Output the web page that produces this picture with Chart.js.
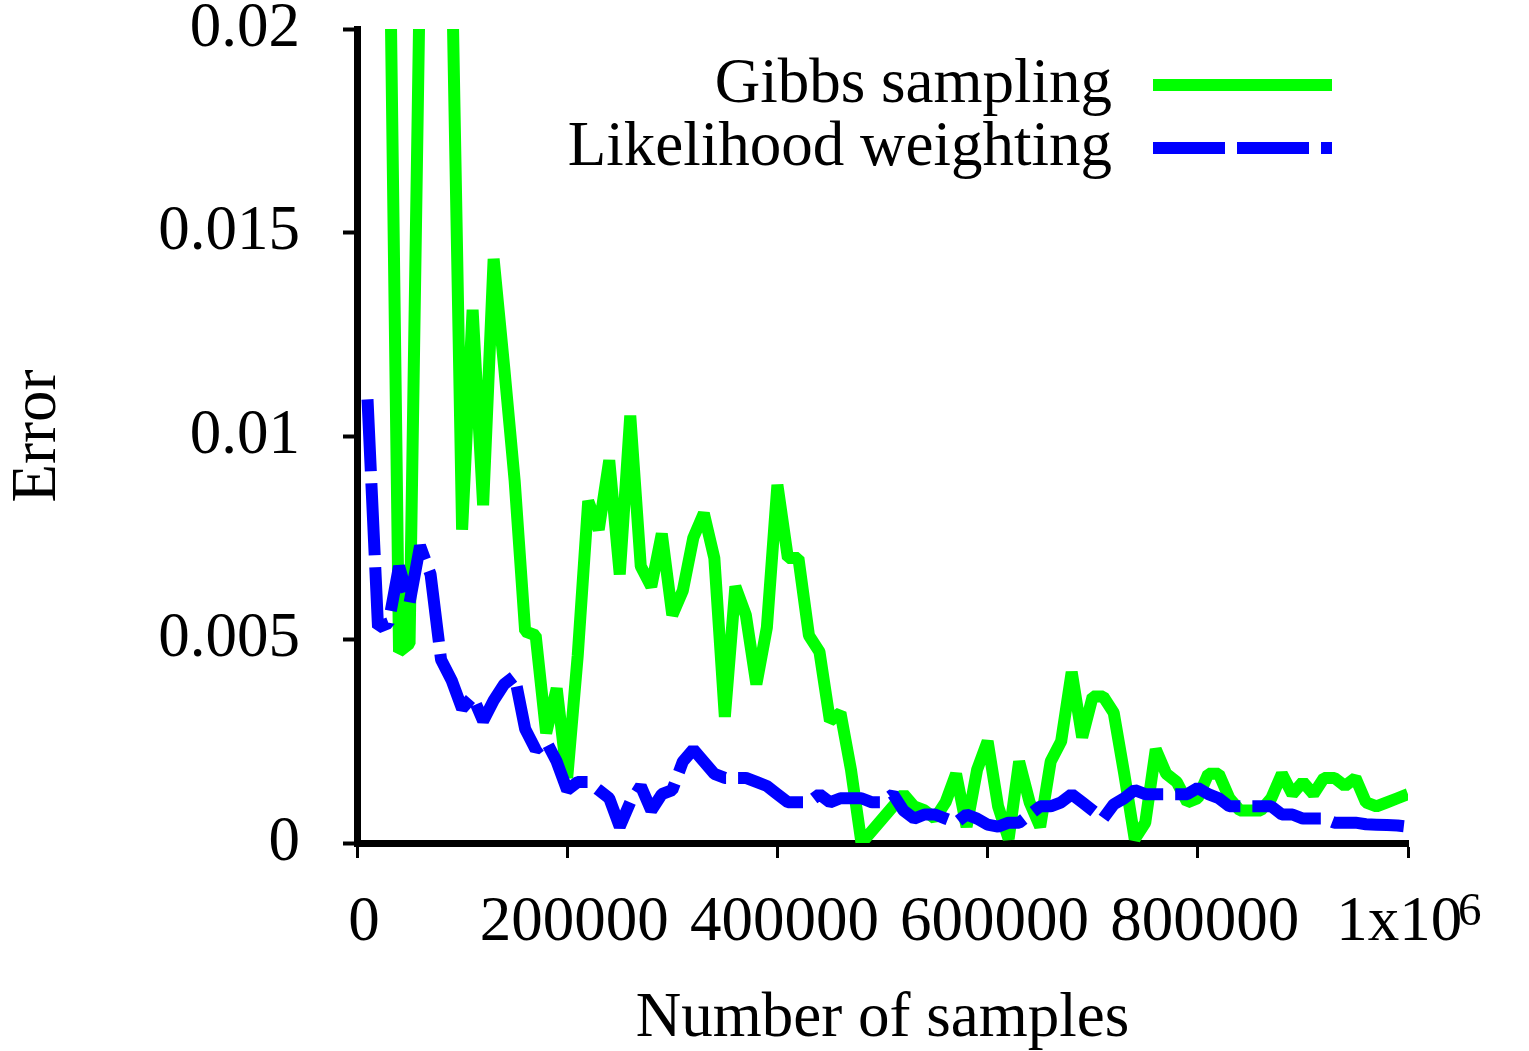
<!DOCTYPE html>
<html>
<head>
<meta charset="utf-8">
<script src="https://cdn.jsdelivr.net/npm/chart.js@4.4.1/dist/chart.umd.min.js"></script>
<style>
  html, body { margin: 0; padding: 0; background: #ffffff; }
  #wrap { width: 1529px; height: 1051px; }
</style>
</head>
<body>
<div id="wrap"><canvas id="errorChart"></canvas></div>
<script>
// Error vs number of samples (one point every 10000 samples).
const samples = [
  10000,20000,30000,40000,50000,60000,70000,80000,90000,100000,
  110000,120000,130000,140000,150000,160000,170000,180000,190000,200000,
  210000,220000,230000,240000,250000,260000,270000,280000,290000,300000,
  310000,320000,330000,340000,350000,360000,370000,380000,390000,400000,
  410000,420000,430000,440000,450000,460000,470000,480000,490000,500000,
  510000,520000,530000,540000,550000,560000,570000,580000,590000,600000,
  610000,620000,630000,640000,650000,660000,670000,680000,690000,700000,
  710000,720000,730000,740000,750000,760000,770000,780000,790000,800000,
  810000,820000,830000,840000,850000,860000,870000,880000,890000,900000,
  910000,920000,930000,940000,950000,960000,970000,980000,990000,1000000
];

// the first few Gibbs values run off the top of the plot (> 0.02)
const gibbs = [
  0.0300,0.0280,0.0248,0.0047,0.0049,0.0217,0.0260,0.0250,0.0220,0.0077,
  0.0131,0.0083,0.01435,0.0117,0.0089,0.0052,0.0051,0.0027,0.0038,0.0016,
  0.0046,0.0084,0.0077,0.0094,0.0066,0.0105,0.0068,0.0063,0.0076,0.0056,
  0.0062,0.0075,0.0081,0.0070,0.0031,0.0063,0.0056,0.0039,0.0053,0.0088,
  0.0070,0.0070,0.0051,0.0047,0.0030,0.0032,0.0018,0.0000,0.0003,0.0006,
  0.0009,0.0012,0.0009,0.0008,0.0006,0.0010,0.0017,0.0004,0.0018,0.0025,
  0.0009,0.0001,0.0020,0.0010,0.0004,0.0020,0.0025,0.0042,0.0026,0.0036,
  0.0036,0.0032,0.0017,0.0001,0.0005,0.0023,0.0017,0.0015,0.0010,0.0011,
  0.0017,0.0017,0.0011,0.0008,0.0008,0.0008,0.0011,0.0017,0.0012,0.0015,
  0.0012,0.0016,0.0016,0.0014,0.0016,0.0010,0.0009,0.0010,0.0011,0.0012
];

const likelihood = [
  0.0109,0.0053,0.0054,0.0068,0.0059,0.0073,0.0066,0.0045,0.0040,0.0033,
  0.0036,0.0030,0.0035,0.0039,0.0041,0.0028,0.0023,0.0025,0.0020,0.0013,
  0.0015,0.0015,0.0013,0.0011,0.0004,0.0010,0.0014,0.0008,0.0012,0.0013,
  0.0020,0.0023,0.0020,0.0017,0.0016,0.0016,0.0016,0.0015,0.0014,0.0012,
  0.0010,0.0010,0.0010,0.0012,0.0010,0.0011,0.0011,0.0011,0.0010,0.0010,
  0.0012,0.0008,0.0006,0.0007,0.0007,0.0006,0.0005,0.0007,0.0006,0.00045,
  0.0004,0.0005,0.0005,0.0007,0.0009,0.0009,0.0010,0.0012,0.0010,0.0008,
  0.0006,0.00095,0.0011,0.0013,0.0012,0.0012,0.0012,0.0012,0.0012,0.00135,
  0.0012,0.0011,0.0009,0.0009,0.0009,0.0009,0.0009,0.0007,0.0007,0.0006,
  0.0006,0.0006,0.0005,0.0005,0.0005,0.00046,0.00045,0.00044,0.00043,0.0004
];

// last x label is "1x10" with a superscript 6 drawn by the plugin below
const xTickLabels = ['0', '200000', '400000', '600000', '800000', '1x10\u2002'];
const xExponent = '6';
const yTickLabels = ['0', '0.005', '0.01', '0.015', '0.02'];

const serif = '"Liberation Serif", "Times New Roman", serif';
Chart.defaults.font.family = serif;
Chart.defaults.color = '#000000';

// gnuplot-style key: text right-aligned, line sample to its right, inside the plot
const plotKey = {
  id: 'plotKey',
  afterDraw(chart) {
    const ctx = chart.ctx;
    const right = chart.chartArea.right - 76;
    ctx.save();
    ctx.font = '63px ' + serif;
    ctx.textAlign = 'right';
    ctx.textBaseline = 'middle';
    chart.data.datasets.forEach((ds, i) => {
      const y = 85 + i * 63;
      ctx.fillStyle = '#000000';
      ctx.fillText(ds.label, right - 220, y);
      ctx.beginPath();
      ctx.setLineDash(ds.borderDash || []);
      ctx.lineWidth = ds.borderWidth;
      ctx.strokeStyle = ds.borderColor;
      ctx.moveTo(right - 179, y);
      ctx.lineTo(right, y);
      ctx.stroke();
    });

    // exponent of the 1x10^6 tick label
    const xs = chart.scales.x;
    ctx.font = '47px ' + serif;
    ctx.textAlign = 'left';
    ctx.textBaseline = 'alphabetic';
    ctx.fillText(xExponent, xs.getPixelForValue(xs.max) + 50, 925);
    ctx.restore();
  }
};

const ctx = document.getElementById('errorChart').getContext('2d');

new Chart(ctx, {
  type: 'line',
  data: {
    datasets: [
      {
        label: 'Gibbs sampling',
        data: samples.map((s, i) => ({ x: s, y: gibbs[i] })),
        borderColor: '#00ff00',
        borderWidth: 12,
        borderJoinStyle: 'bevel',
        pointRadius: 0,
        tension: 0,
        clip: 0,
        order: 1
      },
      {
        label: 'Likelihood weighting',
        data: samples.map((s, i) => ({ x: s, y: likelihood[i] })),
        borderColor: '#0000ff',
        borderWidth: 12,
        borderDash: [72, 12],
        borderJoinStyle: 'bevel',
        pointRadius: 0,
        tension: 0,
        clip: 0,
        order: 0             // drawn over the green line, like gnuplot
      }
    ]
  },
  options: {
    responsive: true,
    maintainAspectRatio: false,
    animation: false,
    events: [],
    layout: { padding: { top: 29, right: 121, bottom: 0, left: 0 } },
    plugins: {
      legend: { display: false },
      tooltip: { enabled: false }
    },
    scales: {
      x: {
        type: 'linear',
        min: 0,
        max: 1000000,
        z: 1,
        grid: { drawOnChartArea: false, tickLength: 15, tickWidth: 3, tickColor: '#000000' },
        border: { color: '#000000', width: 7 },
        ticks: {
          stepSize: 200000,
          autoSkip: false,
          maxRotation: 0,
          padding: 28,
          labelOffset: 7,
          font: { size: 63 },
          callback: (v, i) => xTickLabels[i]
        },
        title: { display: true, text: 'Number of samples', font: { size: 63, lineHeight: 1 }, padding: 0 },
        afterFit: s => { s.height = 208; s.paddingLeft = 0; s.paddingRight = 0; }
      },
      y: {
        min: 0,
        max: 0.02,
        z: 1,
        grid: { drawOnChartArea: false, tickLength: 14, tickWidth: 4, tickColor: '#000000' },
        border: { color: '#000000', width: 7 },
        ticks: {
          stepSize: 0.005,
          padding: 43,
          font: { size: 63 },
          callback: (v, i) => yTickLabels[i]
        },
        title: { display: true, text: 'Error', font: { size: 63, lineHeight: 1 }, padding: { top: 7, bottom: 0 } },
        afterFit: s => { s.width = 357; s.paddingTop = 0; s.paddingBottom = 0; }
      }
    }
  },
  plugins: [plotKey]
});
</script>
</body>
</html>
